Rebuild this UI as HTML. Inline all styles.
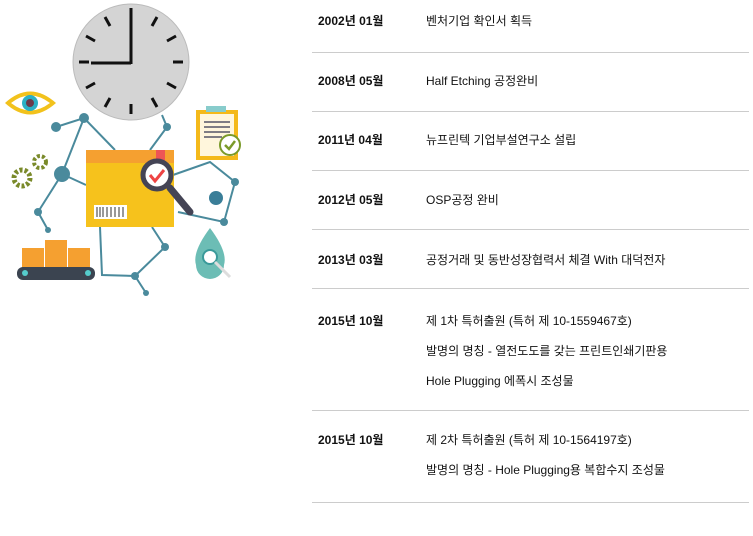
<!DOCTYPE html>
<html><head><meta charset="utf-8"><style>
body{margin:0;width:753px;height:536px;background:#fff;position:relative;overflow:hidden;font-family:"Liberation Sans","Noto Sans CJK KR",sans-serif;font-size:12px;color:#111}
.l{position:absolute;left:312px;width:437px;height:1px;background:#ccc}
.t{position:absolute;line-height:14px;white-space:nowrap}
.d{left:318px;font-weight:bold}
.x{left:426px}
</style></head><body>
<svg width="260" height="300" style="position:absolute;left:0;top:0">
<g stroke="#4a8a9c" stroke-width="2" fill="none">
<polyline points="56,127 84,118 115,150"/><polyline points="84,118 62,174 38,212 48,230"/>
<polyline points="62,174 86,185"/><polyline points="162,115 167,127 150,150"/>
<polyline points="173,175 210,162 235,182 224,222 178,212"/>
<polyline points="100,227 102,275 135,276 146,293"/><polyline points="152,227 165,247 135,276"/>
</g>
<g fill="#4a8a9c"><circle cx="56" cy="127" r="5"/><circle cx="84" cy="118" r="5"/><circle cx="167" cy="127" r="4"/><circle cx="62" cy="174" r="8"/><circle cx="38" cy="212" r="4"/><circle cx="48" cy="230" r="3"/><circle cx="235" cy="182" r="4"/><circle cx="224" cy="222" r="4"/><circle cx="216" cy="198" r="7" fill="#3a7e98"/><circle cx="165" cy="247" r="4"/><circle cx="135" cy="276" r="4"/><circle cx="146" cy="293" r="3"/></g>
<circle cx="131" cy="62" r="58" fill="#d4d4d4" stroke="#bbb"/>
<g stroke="#111" stroke-width="3"><line x1="131" y1="10" x2="131" y2="20"/><line x1="131" y1="104" x2="131" y2="114"/><line x1="79" y1="62" x2="89" y2="62"/><line x1="173" y1="62" x2="183" y2="62"/>
<line x1="105" y1="17" x2="110" y2="26"/><line x1="157" y1="17" x2="152" y2="26"/><line x1="86" y1="36" x2="95" y2="41"/><line x1="176" y1="36" x2="167" y2="41"/><line x1="86" y1="88" x2="95" y2="83"/><line x1="176" y1="88" x2="167" y2="83"/><line x1="105" y1="107" x2="110" y2="98"/><line x1="157" y1="107" x2="152" y2="98"/>
<line x1="131" y1="64" x2="131" y2="8"/><line x1="131" y1="63" x2="91" y2="63"/></g>
<path d="M5,103 Q30,80 56,103 Q30,126 5,103Z" fill="#f2c21c"/><path d="M11,103 Q30,88 50,103 Q30,118 11,103Z" fill="#fff"/><circle cx="30" cy="103" r="8" fill="#2bb0c4"/><circle cx="30" cy="103" r="4" fill="#6b3a4a"/>
<rect x="196" y="110" width="42" height="50" fill="#f4b91a"/><rect x="200" y="114" width="34" height="42" fill="#fff6dc"/><rect x="206" y="106" width="20" height="6" fill="#8cc"/>
<g stroke="#556" stroke-width="1.5"><line x1="204" y1="122" x2="230" y2="122"/><line x1="204" y1="127" x2="230" y2="127"/><line x1="204" y1="132" x2="230" y2="132"/><line x1="204" y1="137" x2="222" y2="137"/></g>
<circle cx="230" cy="145" r="10" fill="#fff" stroke="#7a9a2a" stroke-width="2"/><polyline points="225,145 229,149 235,141" stroke="#7a9a2a" stroke-width="2.5" fill="none"/>
<circle cx="22" cy="178" r="8" fill="none" stroke="#7a8a2a" stroke-width="5" stroke-dasharray="3 2"/><circle cx="40" cy="162" r="6" fill="none" stroke="#7a8a2a" stroke-width="4" stroke-dasharray="3 2"/>
<rect x="86" y="150" width="88" height="77" fill="#f6c21c"/><rect x="86" y="150" width="88" height="13" fill="#f5a030"/><rect x="156" y="150" width="9" height="13" fill="#e55"/>
<rect x="94" y="205" width="33" height="14" fill="#fff"/><g stroke="#333" stroke-width="1"><line x1="97" y1="207" x2="97" y2="217"/><line x1="100" y1="207" x2="100" y2="217"/><line x1="103" y1="207" x2="103" y2="217"/><line x1="107" y1="207" x2="107" y2="217"/><line x1="111" y1="207" x2="111" y2="217"/><line x1="115" y1="207" x2="115" y2="217"/><line x1="119" y1="207" x2="119" y2="217"/><line x1="123" y1="207" x2="123" y2="217"/></g>
<line x1="170" y1="188" x2="190" y2="212" stroke="#445" stroke-width="7" stroke-linecap="round"/>
<circle cx="157" cy="175" r="14" fill="#fff" stroke="#445" stroke-width="5"/><polyline points="150,175 155,181 164,170" stroke="#e44" stroke-width="3" fill="none"/>
<rect x="22" y="248" width="22" height="20" fill="#f5a030"/><rect x="45" y="240" width="22" height="28" fill="#f5a030"/><rect x="68" y="248" width="22" height="20" fill="#f5a030"/>
<rect x="17" y="267" width="78" height="13" rx="6" fill="#3b4450"/><circle cx="25" cy="273" r="3" fill="#5cc"/><circle cx="88" cy="273" r="3" fill="#5cc"/>
<path d="M210,228 Q228,252 224,265 A14,14 0 0 1 196,265 Q192,252 210,228Z" fill="#6cbdb5"/><circle cx="210" cy="257" r="7" fill="#fff" stroke="#3a9a9a" stroke-width="2"/><line x1="215" y1="262" x2="230" y2="277" stroke="#ddd" stroke-width="3"/>
</svg>
<div class="l" style="top:52px"></div><div class="l" style="top:111px"></div><div class="l" style="top:170px"></div><div class="l" style="top:229px"></div><div class="l" style="top:288px"></div><div class="l" style="top:410px"></div><div class="l" style="top:502px"></div>
<div class="t d" style="top:14px">2002년 01월</div><div class="t x" style="top:14px">벤처기업 확인서 획득</div>
<div class="t d" style="top:74px">2008년 05월</div><div class="t x" style="top:74px">Half Etching 공정완비</div>
<div class="t d" style="top:133px">2011년 04월</div><div class="t x" style="top:133px">뉴프린텍 기업부설연구소 설립</div>
<div class="t d" style="top:193px">2012년 05월</div><div class="t x" style="top:193px">OSP공정 완비</div>
<div class="t d" style="top:253px">2013년 03월</div><div class="t x" style="top:253px">공정거래 및 동반성장협력서 체결 With 대덕전자</div>
<div class="t d" style="top:314px">2015년 10월</div><div class="t x" style="top:314px">제 1차 특허출원 (특허 제 10-1559467호)</div>
<div class="t x" style="top:344px">발명의 명칭 - 열전도도를 갖는 프린트인쇄기판용</div>
<div class="t x" style="top:374px">Hole Plugging 에폭시 조성물</div>
<div class="t d" style="top:433px">2015년 10월</div><div class="t x" style="top:433px">제 2차 특허출원 (특허 제 10-1564197호)</div>
<div class="t x" style="top:463px">발명의 명칭 - Hole Plugging용 복합수지 조성물</div>
</body></html>
